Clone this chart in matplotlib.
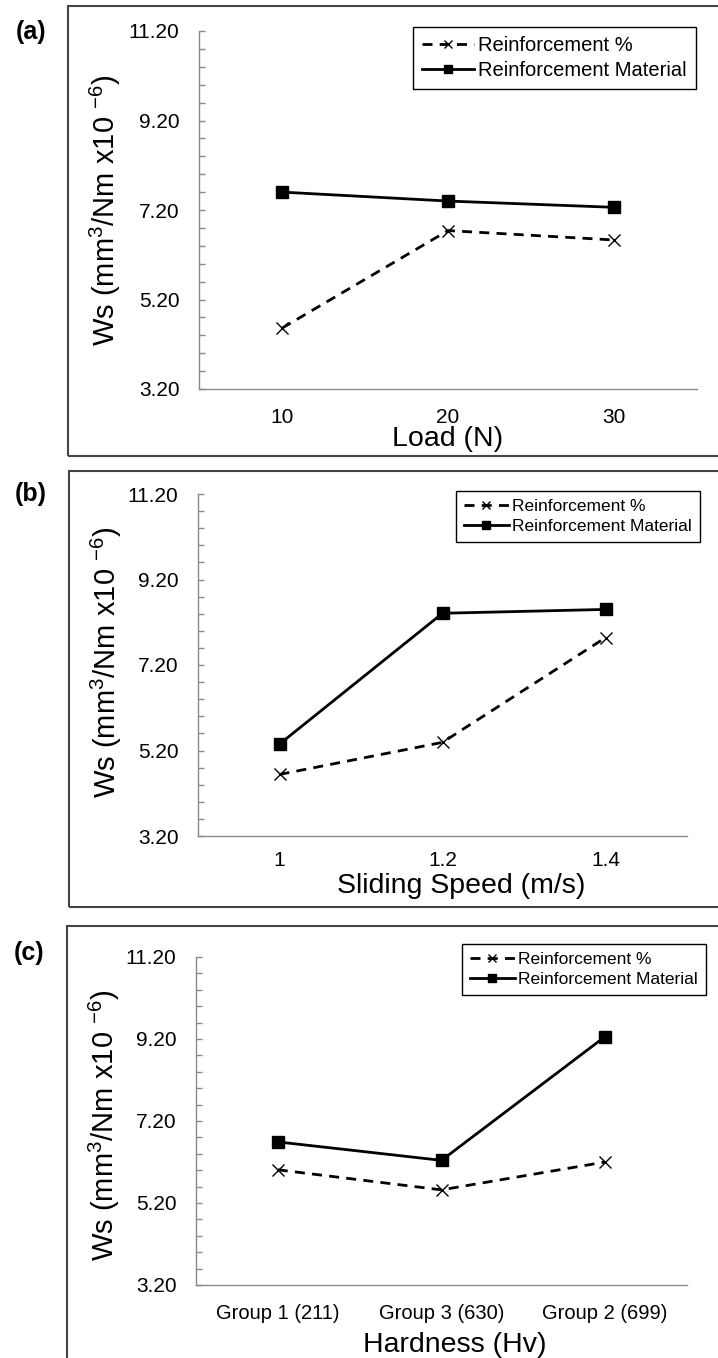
import numpy as np
import matplotlib
matplotlib.use('Agg')
import matplotlib.pyplot as plt
from matplotlib.patches import Rectangle
from matplotlib.ticker import MultipleLocator, FormatStrFormatter

plt.rcParams['font.family'] = ['Liberation Sans', 'DejaVu Sans']
plt.rcParams['mathtext.fontset'] = 'custom'
plt.rcParams['mathtext.rm'] = 'Liberation Sans'
plt.rcParams['mathtext.it'] = 'Liberation Sans:italic'

# data
load = ['10', '20', '30']
load_pct = [4.56, 6.74, 6.53]
load_mat = [7.60, 7.40, 7.26]

speed = ['1', '1.2', '1.4']
speed_pct = [4.64, 5.39, 7.84]
speed_mat = [5.35, 8.41, 8.50]

hardness = ['Group 1 (211)', 'Group 3 (630)', 'Group 2 (699)']
hard_pct = [6.01, 5.52, 6.20]
hard_mat = [6.69, 6.24, 9.26]

W, H = 718, 1358
fig = plt.figure(figsize=(W/100, H/100), dpi=100)

# pixel layout: box, axes (l, r, top, bottom), legend anchor, x-label centre
panels = [
    dict(tag='(a)', cats=load, pct=load_pct, mat=load_mat, xlabel='Load (N)',
         box=(68, 6, 722, 456), ax=(199, 697, 31, 389), leg=(696, 27), legfs=14.5,
         tagpos=(31, 32), xlab=(448, 439), ylab=(105, 210), xfs=15, xpad=14),
    dict(tag='(b)', cats=speed, pct=speed_pct, mat=speed_mat, xlabel='Sliding Speed (m/s)',
         box=(69, 471, 722, 907), ax=(198, 687, 494, 836), leg=(700, 491), legfs=12.5,
         tagpos=(31, 494), xlab=(461, 886), ylab=(106, 662), xfs=15, xpad=11),
    dict(tag='(c)', cats=hardness, pct=hard_pct, mat=hard_mat, xlabel='Hardness (Hv)',
         box=(67, 926, 722, 1370), ax=(196, 687, 957, 1285), leg=(706, 944), legfs=12.5,
         tagpos=(29, 953), xlab=(455, 1345), ylab=(104, 1125), xfs=14.5, xpad=14),
]

for p in panels:
    x0, y0, x1, y1 = p['box']
    fig.add_artist(Rectangle((x0/W, 1 - y1/H), (x1 - x0)/W, (y1 - y0)/H,
                             transform=fig.transFigure, fill=False,
                             ec='#444444', lw=1.5))
    fig.text(p['tagpos'][0]/W, 1 - p['tagpos'][1]/H, p['tag'], fontsize=18,
             fontweight='bold', ha='center', va='center')

    l, r, t, b = p['ax']
    ax = fig.add_axes([l/W, 1 - b/H, (r - l)/W, (b - t)/H])
    ax.plot(p['cats'], p['pct'], color='black', lw=2.0, ls=(0, (3.6, 2.6)),
            marker='x', ms=9, mew=1.0, label='Reinforcement %')
    ax.plot(p['cats'], p['mat'], color='black', lw=2.0, ls='-',
            marker='s', ms=8, label='Reinforcement Material')

    ax.set_xlim(-0.5, 2.5)
    ax.set_ylim(3.2, 11.2)
    ax.set_yticks([3.2, 5.2, 7.2, 9.2, 11.2])
    ax.yaxis.set_minor_locator(MultipleLocator(0.4))
    ax.yaxis.set_major_formatter(FormatStrFormatter('%.2f'))

    for s in ['top', 'right']:
        ax.spines[s].set_visible(False)
    for s in ['left', 'bottom']:
        ax.spines[s].set_color('#8a8a8a')
        ax.spines[s].set_linewidth(1.0)

    ax.tick_params(axis='y', which='both', direction='in', length=4,
                   color='#8a8a8a', width=1, pad=14, labelsize=15)
    ax.tick_params(axis='x', length=0, pad=p['xpad'], labelsize=p['xfs'])

    ax.set_xlabel(p['xlabel'], fontsize=20.5)
    ax.xaxis.set_label_coords(p['xlab'][0]/W, 1 - p['xlab'][1]/H, transform=fig.transFigure)
    ax.xaxis.label.set_va('center')
    ax.set_ylabel('Ws (mm$^{3}$/Nm x10 $^{-6}$)', fontsize=21)
    ax.yaxis.set_label_coords(p['ylab'][0]/W, 1 - p['ylab'][1]/H, transform=fig.transFigure)
    ax.yaxis.label.set_va('center')

    lx, ly = p['leg']
    ax.legend(loc='upper right', bbox_to_anchor=(lx/W, 1 - ly/H),
              bbox_transform=fig.transFigure, borderaxespad=0,
              fontsize=p['legfs'], frameon=True, fancybox=False,
              edgecolor='black', framealpha=1, numpoints=1,
              handlelength=2.6, handletextpad=0.2, labelspacing=0.3,
              borderpad=0.45, markerscale=0.65).get_frame().set_linewidth(1.0)

fig.savefig('out.png', dpi=100)
